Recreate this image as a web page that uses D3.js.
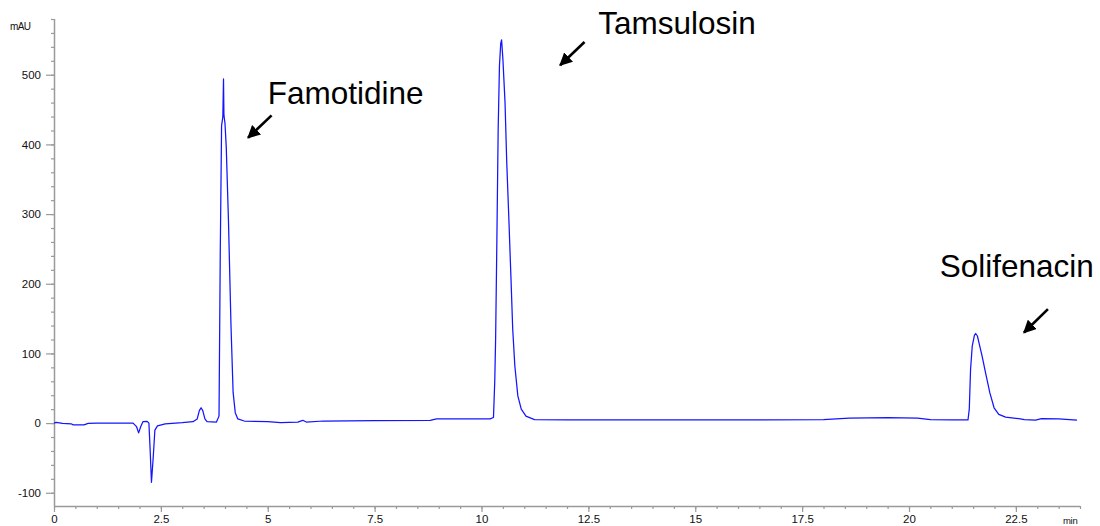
<!DOCTYPE html>
<html>
<head>
<meta charset="utf-8">
<script src="https://cdn.jsdelivr.net/npm/d3@7"></script>
<style>
  html, body { margin: 0; padding: 0; background: #fff; }
  svg { display: block; }
  text { font-family: "Liberation Sans", Arial, Helvetica, sans-serif; }
</style>
</head>
<body>
<svg id="chart" width="1100" height="526"></svg>
<script>
// Chromatogram trace: retention time (min) and absorbance (mAU)
const timeMin = [
  0.00, 0.05, 0.20, 0.40, 0.45, 0.70, 0.80, 1.00, 1.50, 1.85,
  1.93, 1.98, 2.03, 2.08, 2.18, 2.22, 2.25, 2.28, 2.32, 2.36,
  2.42, 2.60, 3.00, 3.25, 3.35, 3.40, 3.44, 3.48, 3.53, 3.58,
  3.80, 3.86, 3.89, 3.92, 3.95, 3.965, 3.975, 4.00, 4.03, 4.08,
  4.14, 4.19, 4.24, 4.30, 4.45, 5.00, 5.30, 5.70, 5.82, 5.90,
  6.30, 7.50, 8.80, 8.95, 9.50, 10.20, 10.28, 10.31, 10.33, 10.36,
  10.39, 10.42, 10.45, 10.47, 10.50, 10.55, 10.59, 10.64, 10.69, 10.73,
  10.78, 10.85, 10.93, 11.04, 11.24, 12.00, 14.00, 16.00, 18.00, 18.60,
  19.50, 20.20, 20.50, 21.00, 21.38, 21.41, 21.44, 21.48, 21.53, 21.56,
  21.60, 21.65, 21.71, 21.79, 21.89, 21.99, 22.10, 22.26, 22.57, 22.70,
  22.96, 23.10, 23.50, 23.93
];
const absorbance = [
  0, 1, -0.5, -1, -2.5, -2.5, -0.5, 0, 0, 0,
  -5, -14, -5, 2, 2.5, 0, -40, -85, -50, -10,
  -4, -1, 0.5, 2, 6, 18, 22, 18, 6, 2,
  1.5, 10, 250, 427, 440, 494, 442, 430, 395, 293,
  140, 44, 15, 6, 3, 2, 0.5, 1.5, 4, 1.5,
  3, 3.5, 4, 6, 6, 6, 8, 60, 120, 264,
  422, 513, 545, 550, 523, 461, 375, 293, 207, 135,
  82, 39, 20, 10, 5, 4.5, 4.5, 4.5, 5, 7,
  8, 7, 5, 4.5, 4.5, 20, 77, 111, 126, 128.6,
  125, 112, 96, 72.5, 43.7, 22, 12.5, 8.6, 6.3, 5,
  4.3, 6.3, 6, 4.3
];

// Axis ticks
const xMajorTicks = [0, 2.5, 5, 7.5, 10, 12.5, 15, 17.5, 20, 22.5];
const xTickLabels = ["0", "2.5", "5", "7.5", "10", "12.5", "15", "17.5", "20", "22.5"];
const yMajorTicks = [-100, 0, 100, 200, 300, 400, 500];
const yTickLabels = ["-100", "0", "100", "200", "300", "400", "500"];

// Peak annotations (label anchor, arrow tail and arrow tip in data units)
const peakNames = ["Famotidine", "Tamsulosin", "Solifenacin"];
const labelTime = [5.0, 12.73, 20.72];
const labelAbs = [458, 558, 209.6];
const arrowFromTime = [5.09, 12.41, 23.25];
const arrowFromAbs = [441.7, 547, 163.6];
const arrowToTime = [4.54, 11.84, 22.69];
const arrowToAbs = [409.6, 513.7, 130];

const svg = d3.select("#chart");
const plotLeft = 54, plotRight = 1080, plotTop = 19, plotBottom = 506;

const x = d3.scaleLinear().domain([0, 24]).range([plotLeft, plotRight]);
const y = d3.scaleLinear().domain([-119, 580]).range([plotBottom, plotTop]);

const axisColor = "#9a9a9a";

// X axis: minor ticks every 0.5 min, major every 2.5 min
const xMinor = d3.range(0, 24.01, 0.5);
const gxMinor = svg.append("g").attr("transform", `translate(0,${plotBottom})`)
  .call(d3.axisBottom(x).tickValues(xMinor).tickSize(3).tickFormat(""));
const gx = svg.append("g").attr("transform", `translate(0,${plotBottom})`)
  .call(d3.axisBottom(x).tickValues(xMajorTicks).tickSize(6)
    .tickFormat((d, i) => xTickLabels[i]).tickPadding(3));

// Y axis: minor ticks every 20 mAU, major every 100
const yMinor = d3.range(-100, 581, 20);
const gyMinor = svg.append("g").attr("transform", `translate(${plotLeft},0)`)
  .call(d3.axisLeft(y).tickValues(yMinor).tickSize(3).tickFormat(""));
const gy = svg.append("g").attr("transform", `translate(${plotLeft},0)`)
  .call(d3.axisLeft(y).tickValues(yMajorTicks).tickSize(8)
    .tickFormat((d, i) => yTickLabels[i]).tickPadding(5));

[gxMinor, gx, gyMinor, gy].forEach(g => {
  g.select(".domain").attr("stroke", axisColor).attr("stroke-width", 1.5);
  g.selectAll(".tick line").attr("stroke", axisColor).attr("stroke-width", 1.2);
  g.selectAll(".tick text").attr("fill", "#111").attr("font-size", 11.5)
    .attr("font-family", "'Liberation Sans', Arial, sans-serif");
});
gyMinor.select(".domain").attr("d", `M0.5,${plotBottom}V${plotTop}`);
gxMinor.select(".domain").attr("d", `M${plotLeft},0.5H${plotRight}`);
gy.select(".domain").remove();
gx.select(".domain").remove();

// Axis unit labels
svg.append("text").attr("x", 10).attr("y", 30)
  .attr("font-size", 10).attr("letter-spacing", -0.6).attr("fill", "#111").text("mAU");
svg.append("text").attr("x", 1063).attr("y", 524)
  .attr("font-size", 9.5).attr("letter-spacing", -0.3).attr("fill", "#111").text("min");

// Trace
const points = timeMin.map((t, i) => [t, absorbance[i]]);
svg.append("path")
  .datum(points)
  .attr("fill", "none")
  .attr("stroke", "#1414ff")
  .attr("stroke-width", 1.25)
  .attr("stroke-linejoin", "round")
  .attr("d", d3.line().x(d => x(d[0])).y(d => y(d[1])));

// Annotations with arrows
svg.append("defs").append("marker")
  .attr("id", "arrowhead")
  .attr("viewBox", "0 0 10 10")
  .attr("refX", 9).attr("refY", 5)
  .attr("markerWidth", 5).attr("markerHeight", 5)
  .attr("markerUnits", "strokeWidth")
  .attr("orient", "auto")
  .append("path").attr("d", "M0,0L10,5L0,10z").attr("fill", "#000");

peakNames.forEach((name, i) => {
  svg.append("text")
    .attr("x", x(labelTime[i])).attr("y", y(labelAbs[i]))
    .attr("font-size", 31.5).attr("fill", "#000").text(name);
  svg.append("line")
    .attr("x1", x(arrowFromTime[i])).attr("y1", y(arrowFromAbs[i]))
    .attr("x2", x(arrowToTime[i])).attr("y2", y(arrowToAbs[i]))
    .attr("stroke", "#000").attr("stroke-width", 2.6)
    .attr("marker-end", "url(#arrowhead)");
});
</script>
</body>
</html>
